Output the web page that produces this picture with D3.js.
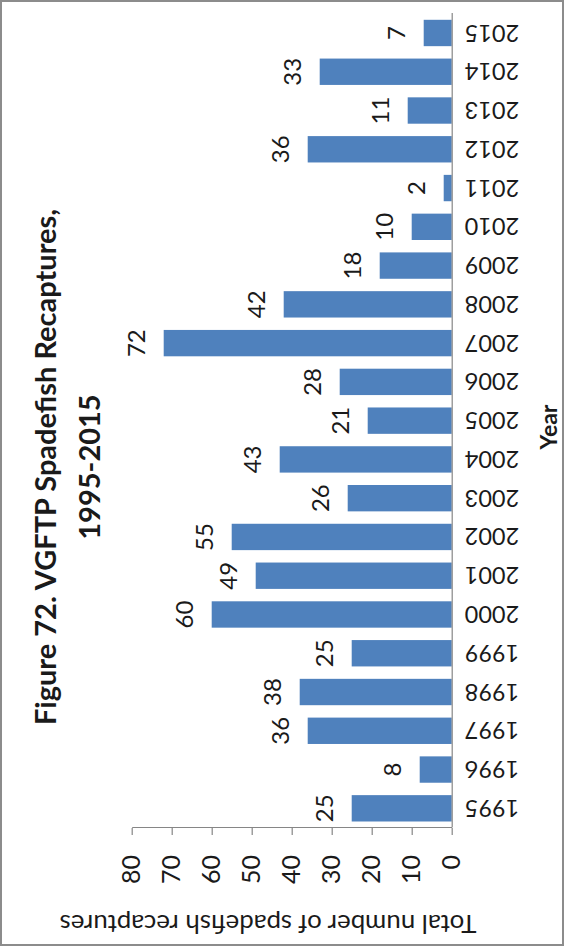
<!DOCTYPE html>
<html>
<head>
<meta charset="utf-8">
<script src="https://cdn.jsdelivr.net/npm/d3@7"></script>
<style>
  html, body { margin: 0; padding: 0; background: #ffffff; }
  svg { display: block; }
</style>
</head>
<body>
<svg id="chart" width="564" height="951"></svg>
<script>
// ---- data ----
const years = ["1995","1996","1997","1998","1999","2000","2001","2002","2003","2004","2005",
               "2006","2007","2008","2009","2010","2011","2012","2013","2014","2015"];
const recaptures = [25, 8, 36, 38, 25, 60, 49, 55, 26, 43, 21, 28, 72, 42, 18, 10, 2, 36, 11, 33, 7];
const valueTicks = [0, 10, 20, 30, 40, 50, 60, 70, 80];
const titleLines = ["Figure 72. VGFTP Spadefish Recaptures,", "1995-2015"];
const valueAxisTitle = "Total number of spadefish recaptures";
const categoryAxisTitle = "Year";

// ---- layout (chart drawn upright in a 951 x 564 frame, then turned a quarter turn) ----
const PAGE_W = 564, PAGE_H = 951;
const W = PAGE_H, H = PAGE_W;
const FONT = "Lato, 'Open Sans', 'Liberation Sans', sans-serif";
const BAR = "#4F81BD", AXIS = "#868686", TEXT = "#1a1a1a";

const svg = d3.select("#chart");

// frame
svg.append("rect")
  .attr("x", 1).attr("y", 1).attr("width", PAGE_W - 2).attr("height", PAGE_H - 7)
  .attr("fill", "#fff").attr("stroke", "#8c8c8c").attr("stroke-width", 2);

const g = svg.append("g").attr("transform", `translate(0,${W}) rotate(-90)`);

const x = d3.scaleBand().domain(years).range([123.3, 937.4])
  .paddingInner(0.32).paddingOuter(0.16);
const y = d3.scaleLinear().domain([0, 80]).range([451.7, 131.7]);

const data = years.map((yr, i) => ({ year: yr, value: recaptures[i] }));

// bars
g.append("g").selectAll("rect").data(data).join("rect")
  .attr("x", d => x(d.year))
  .attr("width", x.bandwidth())
  .attr("y", d => y(d.value))
  .attr("height", d => y(0) - y(d.value))
  .attr("fill", BAR);

// data labels
g.append("g").selectAll("text").data(data).join("text")
  .attr("x", d => x(d.year) + x.bandwidth() / 2)
  .attr("y", d => y(d.value) - 18.5)
  .attr("text-anchor", "middle")
  .attr("font-family", FONT).attr("font-size", 24).attr("fill", TEXT)
  .text(d => d.value);

// value axis
const yAxis = g.append("g").attr("transform", `translate(${x.range()[0] - 0.3},0)`)
  .call(d3.axisLeft(y).tickValues(valueTicks).tickSize(7).tickSizeOuter(0).tickPadding(20));
yAxis.select(".domain").attr("stroke", AXIS).attr("stroke-width", 1.2);
yAxis.selectAll(".tick line").attr("stroke", AXIS).attr("stroke-width", 1.2);
yAxis.selectAll(".tick text")
  .attr("font-family", FONT).attr("font-size", 25).attr("fill", TEXT);

// category axis
const xAxis = g.append("g").attr("transform", `translate(0,${y(0)})`)
  .call(d3.axisBottom(x).tickSize(0).tickSizeOuter(0));
xAxis.select(".domain").attr("stroke", AXIS).attr("stroke-width", 1.2);
xAxis.selectAll(".tick text")
  .attr("transform", "rotate(-90)")
  .attr("x", -13).attr("y", 0).attr("dy", "0.36em")
  .attr("text-anchor", "end")
  .attr("font-family", FONT).attr("font-size", 23.5).attr("fill", TEXT);

// axis titles
g.append("text")
  .attr("x", 524).attr("y", 557)
  .attr("text-anchor", "middle")
  .attr("font-family", FONT).attr("font-weight", "bold").attr("font-size", 23).attr("fill", TEXT)
  .text(categoryAxisTitle);

g.append("text")
  .attr("transform", "translate(36,268) rotate(-90)")
  .attr("text-anchor", "middle")
  .attr("font-family", FONT).attr("font-size", 25.8).attr("fill", TEXT)
  .text(valueAxisTitle);

// chart title
g.append("g").selectAll("text").data(titleLines).join("text")
  .attr("x", 484)
  .attr("y", (d, i) => 56 + i * 44)
  .attr("text-anchor", "middle")
  .attr("font-family", FONT).attr("font-weight", "bold").attr("font-size", 29).attr("fill", TEXT)
  .text(d => d);
</script>
</body>
</html>
